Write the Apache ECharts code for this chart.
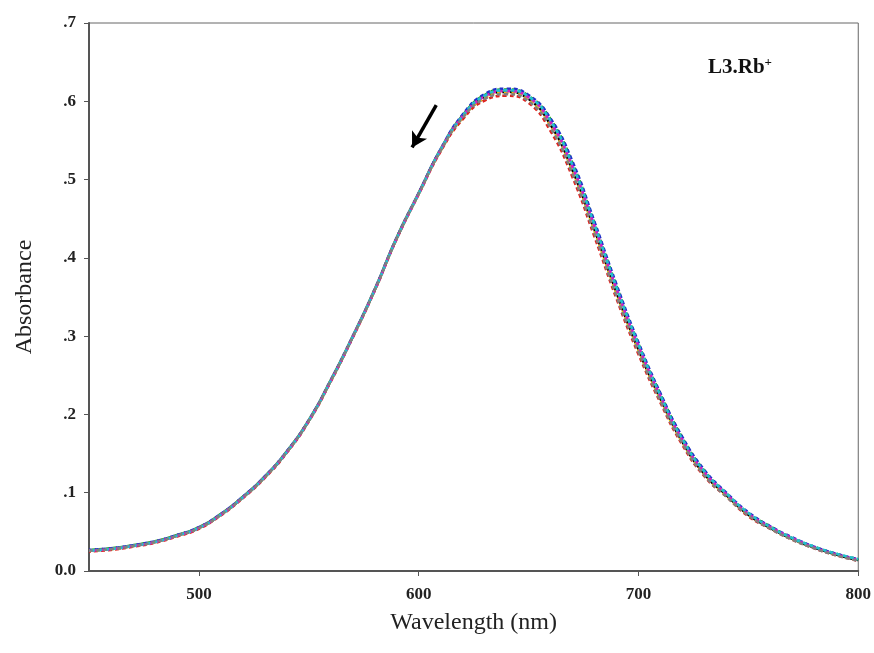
<!DOCTYPE html>
<html>
<head>
<meta charset="utf-8">
<script src="https://cdn.jsdelivr.net/npm/echarts@6/dist/echarts.min.js"></script>
<style>
  html, body { margin: 0; padding: 0; background: #fff; }
  #main { width: 874px; height: 653px; }
</style>
</head>
<body>
<div id="main"></div>
<script>
// absorbance spectra, L3.Rb+ titration
const WAVELENGTHS = [450, 460, 470, 480, 490, 500, 510, 520, 530, 540, 550, 560,
  570, 580, 590, 600, 610, 620, 630, 640, 650, 660, 670, 680, 690, 700,
  710, 720, 730, 740, 750, 760, 770, 780, 790, 800];

const ABS_1 = [.026, .028, .032, .037, .045, .055, .072, .094, .120, .152, .192, .243,
  .299, .359, .425, .482, .538, .580, .605, .612, .603, .570, .512, .436, .356, .283,
  .220, .165, .124, .097, .072, .055, .041, .030, .021, .014];
const ABS_2 = [.025, .027, .031, .036, .044, .054, .071, .093, .119, .151, .191, .242,
  .298, .358, .424, .481, .536, .577, .601, .607, .598, .562, .503, .427, .348, .277,
  .215, .161, .121, .095, .070, .054, .040, .029, .020, .013];
const ABS_3 = [.027, .029, .033, .038, .046, .056, .073, .095, .121, .153, .193, .244,
  .300, .360, .426, .483, .539, .582, .608, .615, .607, .577, .521, .444, .364, .290,
  .226, .170, .128, .099, .074, .057, .042, .031, .022, .015];
const ABS_4 = [.026, .028, .032, .037, .045, .055, .072, .094, .120, .152, .192, .243,
  .299, .359, .425, .482, .537, .579, .604, .611, .602, .569, .511, .434, .354, .282,
  .219, .164, .124, .096, .072, .055, .041, .030, .021, .014];
const ABS_5 = [.027, .029, .033, .038, .046, .056, .073, .095, .121, .153, .193, .244,
  .300, .360, .426, .483, .539, .583, .609, .616, .608, .578, .523, .446, .366, .292,
  .227, .171, .129, .100, .075, .057, .043, .031, .022, .015];
const ABS_6 = [.026, .028, .032, .037, .045, .055, .072, .094, .120, .152, .192, .243,
  .299, .359, .425, .482, .538, .581, .606, .613, .605, .573, .516, .440, .360, .287,
  .223, .167, .126, .098, .073, .056, .042, .030, .021, .014];
const ABS_7 = [.026, .028, .032, .037, .045, .055, .072, .094, .120, .152, .192, .243,
  .299, .359, .425, .482, .538, .581, .607, .614, .606, .575, .518, .442, .362, .289,
  .224, .168, .127, .099, .074, .056, .042, .031, .022, .015];
const ABS_8 = [.026, .028, .032, .037, .045, .055, .072, .094, .120, .152, .192, .243,
  .299, .359, .425, .482, .537, .579, .603, .609, .600, .566, .507, .431, .351, .280,
  .217, .163, .122, .095, .071, .054, .040, .029, .020, .013];

const SERIES_VALUES = [ABS_1, ABS_2, ABS_3, ABS_4, ABS_5, ABS_6, ABS_7, ABS_8];
const SERIES_COLORS = ['#000000', '#e0201b', '#20a020', '#e8d000', '#2030c8', '#d020c0', '#20c0d0', '#808080'];

const X_TICKS = [500, 600, 700, 800];
const Y_TICKS = [0, .1, .2, .3, .4, .5, .6, .7];

// arrow pointing at the decreasing band
const ARROW_FROM = [608, 0.595];
const ARROW_TO = [597, 0.541];

const SERIF = '"Liberation Serif", "DejaVu Serif", serif';

const chart = echarts.init(document.getElementById('main'));

const series = SERIES_VALUES.map((vals, i) => ({
  type: 'line',
  data: WAVELENGTHS.map((w, k) => [w, vals[k]]),
  smooth: true,
  showSymbol: false,
  silent: true,
  lineStyle: {
    color: SERIES_COLORS[i],
    width: 2.6,
    type: [4, 3],
    dashOffset: i * 2
  },
  z: 2 + i
}));

series[0].markLine = {
  silent: true,
  symbol: ['none', 'arrow'],
  symbolSize: [13, 15],
  label: { show: false },
  lineStyle: { color: '#000', width: 3.5, type: 'solid' },
  data: [[{ coord: ARROW_FROM }, { coord: ARROW_TO }]]
};

chart.setOption({
  animation: false,
  backgroundColor: '#fff',
  grid: {
    left: 89, right: 15, top: 23, bottom: 82,
    show: true, borderColor: '#666', borderWidth: 1
  },
  xAxis: {
    type: 'value',
    min: 450, max: 800,
    name: 'Wavelength (nm)',
    nameLocation: 'middle',
    nameGap: 40,
    nameTextStyle: { fontFamily: SERIF, fontSize: 24, color: '#222' },
    axisLine: { onZero: false, lineStyle: { color: '#555', width: 2 } },
    axisTick: { show: true, length: 5, customValues: X_TICKS, lineStyle: { color: '#555' } },
    axisLabel: {
      customValues: X_TICKS,
      margin: 15,
      fontFamily: SERIF, fontWeight: 'bold', fontSize: 17, color: '#222'
    },
    splitLine: { show: false }
  },
  yAxis: {
    type: 'value',
    min: 0, max: 0.7,
    name: 'Absorbance',
    nameLocation: 'middle',
    nameGap: 52,
    nameTextStyle: { fontFamily: SERIF, fontSize: 24, color: '#222' },
    axisLine: { show: true, lineStyle: { color: '#555', width: 2 } },
    axisTick: { show: true, length: 5, customValues: Y_TICKS, lineStyle: { color: '#555' } },
    axisLabel: {
      customValues: Y_TICKS,
      margin: 13,
      fontFamily: SERIF, fontWeight: 'bold', fontSize: 17, color: '#222',
      formatter: v => v === 0 ? '0.0' : '.' + Math.round(v * 10)
    },
    splitLine: { show: false }
  },
  graphic: [{
    type: 'text',
    left: 708, top: 56,
    style: {
      text: '{b|L3}{n|.Rb}{s|+}',
      rich: {
        b: { fontFamily: SERIF, fontWeight: 'bold', fontSize: 21, fill: '#111' },
        n: { fontFamily: SERIF, fontWeight: 'bold', fontSize: 21, fill: '#111' },
        s: { fontFamily: SERIF, fontWeight: 'bold', fontSize: 13, fill: '#111', padding: [0, 0, 11, 0] }
      }
    }
  }],
  series: series
});
</script>
</body>
</html>
